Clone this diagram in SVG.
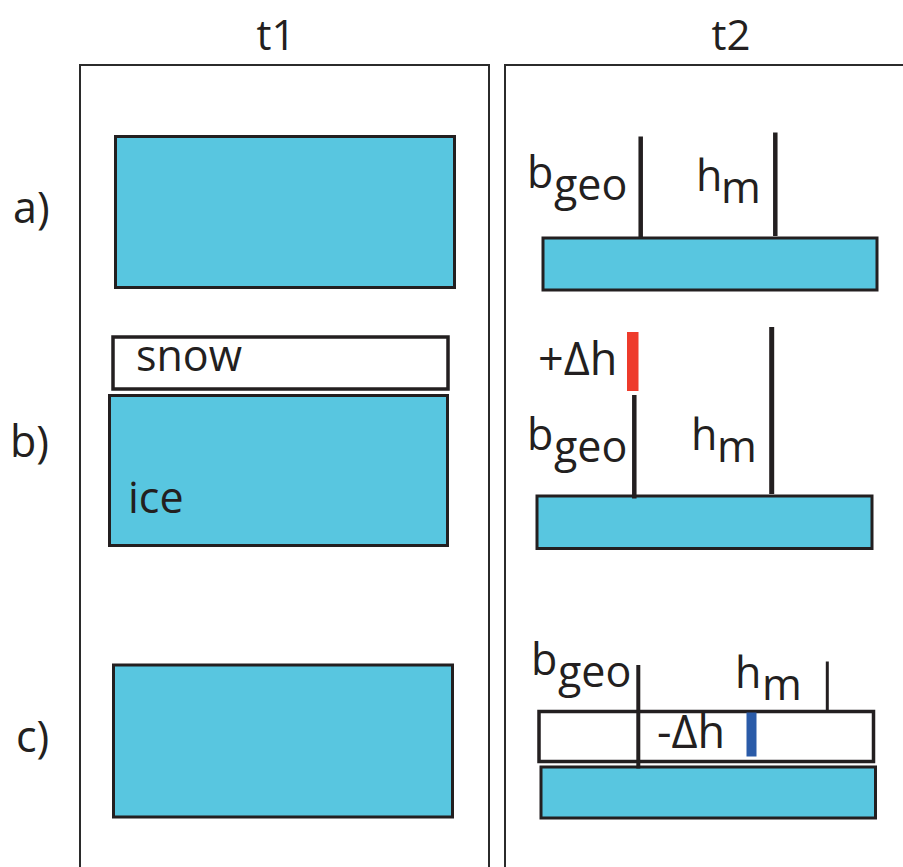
<svg xmlns="http://www.w3.org/2000/svg" width="903" height="867" viewBox="0 0 903 867">
  <style>
    .lbl { font-family: "Open Sans", "Noto Sans", "DejaVu Sans", sans-serif; font-size: 43px; fill: #231F20; }
    .delta { font-size: 45px; }
    .head { font-family: "Open Sans", "Noto Sans", sans-serif; font-size: 42px; fill: #231F20; }
    .panel { fill: none; stroke: #2b2b2b; stroke-width: 2; }
    .ice { fill: #58C6E0; stroke: #231F20; stroke-width: 3; }
    .snow { fill: #ffffff; stroke: #231F20; stroke-width: 3.5; }
    .tick { stroke: #231F20; stroke-linecap: butt; }
  </style>

  <rect width="903" height="867" fill="#ffffff"/>

  <!-- column headers -->
  <text class="head" x="276" y="50" text-anchor="middle">t1</text>
  <text class="head" x="731" y="50" text-anchor="middle">t2</text>

  <!-- row labels -->
  <text class="lbl" x="13" y="223">a)</text>
  <text class="lbl" x="10" y="457">b)</text>
  <text class="lbl" x="16" y="752">c)</text>

  <!-- time t1 -->
  <g id="panel-t1">
    <rect class="panel" x="80" y="65" width="409" height="830"/>
    <g id="t1-a">
      <rect class="ice" x="115.5" y="136.5" width="339" height="151"/>
    </g>
    <g id="t1-b">
      <rect class="snow" x="113" y="337" width="335" height="52"/>
      <text class="lbl" x="136" y="371">snow</text>
      <rect class="ice" x="109.5" y="395.5" width="338" height="150"/>
      <text class="lbl" x="128" y="513">ice</text>
    </g>
    <g id="t1-c">
      <rect class="ice" x="113.5" y="665" width="339" height="152"/>
    </g>
  </g>

  <!-- time t2 -->
  <g id="panel-t2">
    <rect class="panel" x="505" y="65" width="420" height="830"/>
    <g id="t2-a">
      <rect class="ice" x="543" y="238" width="334" height="52" stroke-width="2.5"/>
      <line class="tick" x1="640.7" y1="136.5" x2="640.7" y2="239" stroke-width="4.5"/>
      <line class="tick" x1="775.3" y1="132.5" x2="775.3" y2="236" stroke-width="4.5"/>
      <text class="lbl" x="527"><tspan y="188">b</tspan><tspan x="554" y="200">geo</tspan></text>
      <text class="lbl" x="696"><tspan y="191">h</tspan><tspan x="721" y="203">m</tspan></text>
    </g>
    <g id="t2-b">
      <rect class="ice" x="537" y="496" width="335" height="52.5" stroke-width="2.5"/>
      <rect x="627" y="332" width="11.5" height="59" fill="#EE3B2B"/>
      <line class="tick" x1="634.3" y1="395" x2="634.3" y2="498.5" stroke-width="4.5"/>
      <line class="tick" x1="771.7" y1="327" x2="771.7" y2="494" stroke-width="5"/>
      <text class="lbl delta" x="538" y="375">+Δh</text>
      <text class="lbl" x="527"><tspan y="450">b</tspan><tspan x="554" y="462">geo</tspan></text>
      <text class="lbl" x="691"><tspan y="450">h</tspan><tspan x="717" y="462">m</tspan></text>
    </g>
    <g id="t2-c">
      <rect class="ice" x="541" y="767" width="334.5" height="51" stroke-width="2.5"/>
      <rect class="snow" x="539" y="711.5" width="334.5" height="50" stroke-width="4"/>
      <line class="tick" x1="638.3" y1="665" x2="638.3" y2="768.5" stroke-width="4"/>
      <line class="tick" x1="827.3" y1="661.5" x2="827.3" y2="710" stroke-width="3"/>
      <rect x="746.5" y="712.5" width="10" height="44" fill="#2A5BA8"/>
      <text class="lbl delta" x="657" y="748">-Δh</text>
      <text class="lbl" x="531"><tspan y="675">b</tspan><tspan x="558" y="687">geo</tspan></text>
      <text class="lbl" x="735"><tspan y="688">h</tspan><tspan x="762" y="700">m</tspan></text>
    </g>
  </g>
</svg>
